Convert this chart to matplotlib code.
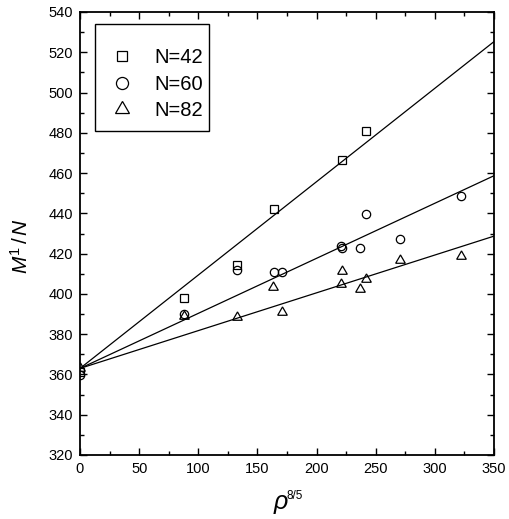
import numpy as np
import matplotlib
matplotlib.use('Agg')
import matplotlib.pyplot as plt
from matplotlib.patches import Rectangle

plt.rcParams['font.family'] = ['Liberation Sans', 'DejaVu Sans']
plt.rcParams['mathtext.fontset'] = 'custom'
plt.rcParams['mathtext.rm'] = 'Liberation Sans'
plt.rcParams['mathtext.it'] = 'Liberation Sans:italic'

# data
x42 = [0, 87.8, 132.5, 163.7, 221.9, 241.4]
y42 = [361.0, 398.0, 414.3, 442.1, 466.5, 480.9]

x60 = [0, 87.8, 132.5, 163.7, 170.7, 220.5, 221.9, 236.6, 241.4, 270.9, 322.4]
y60 = [359.6, 389.8, 411.8, 410.7, 410.7, 423.9, 422.9, 423.0, 439.6, 427.5, 448.6]

x82 = [0, 87.8, 132.5, 163.1, 170.7, 221.9, 220.5, 236.6, 241.4, 270.9, 322.1]
y82 = [363.3, 389.2, 388.6, 403.2, 391.1, 411.3, 404.8, 402.5, 407.3, 416.6, 418.8]

# fitted lines (intercept, slope)
fit42 = (363.0, 0.4637)
fit60 = (363.0, 0.2734)
fit82 = (363.0, 0.1877)

fig = plt.figure(figsize=(5.10, 5.19), dpi=100)
ax = fig.add_axes([80 / 510, 1 - 455 / 519, 414 / 510, 443 / 519])

xl = np.array([0, 350])
for b, m in (fit42, fit60, fit82):
    ax.plot(xl, b + m * xl, color='black', lw=0.9)

ax.plot(x42, y42, ls='none', marker='s', ms=5.2, mfc='none', mec='black', mew=0.9, label='N=42')
ax.plot(x60, y60, ls='none', marker='o', ms=6.0, mfc='none', mec='black', mew=0.9, label='N=60')
ax.plot(x82, y82, ls='none', marker=(3, 0, 0), ms=8.0, mfc='none', mec='black', mew=0.9, label='N=82')

ax.set_xlim(0, 350)
ax.set_ylim(320, 540)
ax.set_xticks(np.arange(0, 351, 50))
ax.set_xticks(np.arange(0, 351, 25), minor=True)
ax.set_yticks(np.arange(320, 541, 20))
ax.set_yticks(np.arange(320, 541, 10), minor=True)
ax.tick_params(which='both', direction='in', top=True, right=True, labelsize=10.5, width=1.0)
ax.tick_params(which='major', length=5, pad=5)
ax.tick_params(which='minor', length=3)
for s in ax.spines.values():
    s.set_linewidth(1.3)

ax.set_ylabel(r'$M^{1}\,/\,N$', fontsize=15)
ax.yaxis.set_label_coords(-0.116, 0.471)

ax.text(0.4843, -0.122, 'ρ', transform=ax.transAxes, fontsize=18, style='italic',
        ha='center', va='baseline', clip_on=False)
ax.text(0.498, -0.099, '8/5', transform=ax.transAxes, fontsize=8.5,
        ha='left', va='baseline', clip_on=False)

# legend: box drawn separately, entries placed inside
ax.add_patch(Rectangle((0.0362, 0.7314), 0.2754, 0.2415, transform=ax.transAxes,
                       fill=False, ec='black', lw=1.0, zorder=5))
leg = ax.legend(loc='upper left', bbox_to_anchor=(0.0773, 0.918), borderaxespad=0,
                fontsize=14.5, frameon=False, handlelength=1.0, handletextpad=1.09,
                labelspacing=0.36, borderpad=0, markerscale=1.45)

fig.savefig('out.png', dpi=100)
